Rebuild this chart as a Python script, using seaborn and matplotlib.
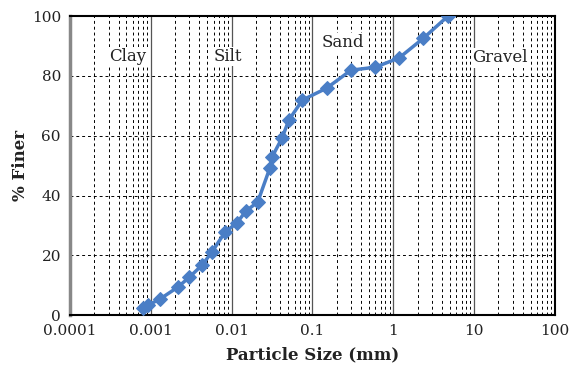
import numpy as np
import pandas as pd
import matplotlib
matplotlib.use("Agg")
import matplotlib.pyplot as plt
import seaborn as sns
from matplotlib.ticker import LogLocator, FixedLocator, NullFormatter

# particle size (mm) and % finer
sizes = [0.0008, 0.00092, 0.0013, 0.00217, 0.003, 0.0043, 0.0057, 0.0083,
         0.0116, 0.015, 0.021, 0.0297, 0.0315, 0.042, 0.051, 0.075, 0.15, 0.3,
         0.6, 1.18, 2.36, 4.75]
finer = [2.3, 3.3, 5.4, 9.4, 12.7, 16.7, 21.1, 27.8, 30.8, 34.8, 37.8, 49.2,
         52.8, 59.2, 65.2, 71.9, 75.9, 81.9, 82.9, 86.0, 92.6, 100]
zones = ["Clay", "Silt", "Sand", "Gravel"]
zone_x = [0.00052, 0.009, 0.24, 21]
zone_y = [86.5, 86.5, 91, 86]
xticks = [0.0001, 0.001, 0.01, 0.1, 1, 10, 100]
xticklabels = ["0.0001", "0.001", "0.01", "0.1", "1", "10", "100"]

df = pd.DataFrame({"size": sizes, "finer": finer})

sns.set_style("white")
plt.rcParams["font.family"] = ["DejaVu Serif"]

fig = plt.figure(figsize=(5.76, 3.91), dpi=100)
ax = fig.add_axes([0.1215, 0.194, 0.842, 0.765])

sns.lineplot(data=df, x="size", y="finer", ax=ax, color="#4a7ec6",
             marker="D", markersize=7, markeredgecolor="#4a7ec6",
             linewidth=2.5, zorder=5, sort=False)

ax.set_xscale("log")
ax.set_xlim(0.0001, 100)
ax.set_ylim(0, 100)
ax.xaxis.set_major_locator(FixedLocator(xticks))
ax.set_xticklabels(xticklabels)
ax.xaxis.set_minor_locator(LogLocator(base=10, subs=np.arange(2, 10)))
ax.xaxis.set_minor_formatter(NullFormatter())
ax.set_yticks([0, 20, 40, 60, 80, 100])

ax.grid(which="major", axis="x", color="#555555", linestyle="-", linewidth=0.9)
ax.grid(which="minor", axis="x", color="black", linestyle=(0, (3, 3)), linewidth=0.7)
ax.grid(which="major", axis="y", color="black", linestyle=(0, (3, 3)), linewidth=0.7)

for side in ["top", "right", "bottom"]:
    ax.spines[side].set_color("black")
    ax.spines[side].set_linewidth(1.5)
ax.spines["left"].set_color("#888888")
ax.spines["left"].set_linewidth(2.5)

ax.tick_params(axis="both", which="major", labelsize=11, length=3, color="#888888",
               labelcolor="#222222")
ax.tick_params(axis="x", which="minor", length=0)

for name, zx, zy in zip(zones, zone_x, zone_y):
    ax.text(zx, zy, name, fontsize=12, ha="center", va="center", color="#222222",
            bbox=dict(facecolor="white", edgecolor="none", pad=1))

ax.set_xlabel("Particle Size (mm)", fontsize=12, fontweight="bold", labelpad=6,
              color="#222222")
ax.set_ylabel("% Finer", fontsize=12, fontweight="bold", labelpad=2, color="#222222")

fig.savefig("out.png", dpi=100)
